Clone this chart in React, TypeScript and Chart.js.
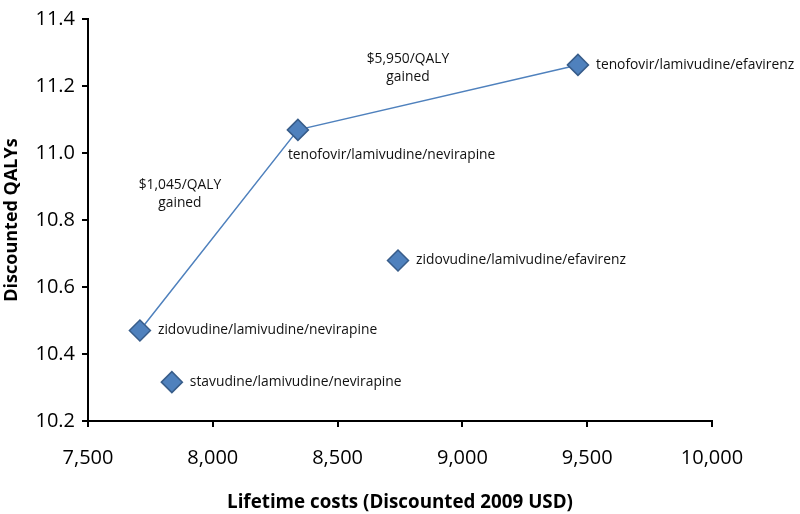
import React, { useEffect, useRef } from "react";
import { Chart, registerables } from "chart.js";

Chart.register(...registerables);

const regimens = [
  "zidovudine/lamivudine/nevirapine",
  "stavudine/lamivudine/nevirapine",
  "tenofovir/lamivudine/nevirapine",
  "zidovudine/lamivudine/efavirenz",
  "tenofovir/lamivudine/efavirenz",
];
const lifetimeCosts = [7708, 7836, 8341, 8742, 9463];
const discountedQalys = [10.47, 10.316, 11.069, 10.679, 11.263];
const onFrontier = [true, false, true, false, true];
const icerLabels = [
  ["$1,045/QALY", "gained"],
  ["$5,950/QALY", "gained"],
];
const xTicks = [7500, 8000, 8500, 9000, 9500, 10000];
const yTicks = [10.2, 10.4, 10.6, 10.8, 11.0, 11.2, 11.4];

const FONT = "'Open Sans', 'DejaVu Sans', sans-serif";
const BLUE = "#4F81BD";
const BLUE_DARK = "#385D8A";

const labelPlugin = {
  id: "regimenLabels",
  afterDatasetsDraw(chart: any) {
    const ctx = chart.ctx;
    const xs = chart.scales.x;
    const ys = chart.scales.y;
    ctx.save();
    ctx.fillStyle = "#111";
    ctx.font = `13.8px ${FONT}`;
    ctx.textBaseline = "middle";
    regimens.forEach((name, i) => {
      const px = xs.getPixelForValue(lifetimeCosts[i]);
      const py = ys.getPixelForValue(discountedQalys[i]);
      ctx.textAlign = "left";
      if (name === "tenofovir/lamivudine/nevirapine") {
        ctx.fillText(name, px - 10, py + 25);
      } else {
        ctx.fillText(name, px + 18, py);
      }
    });
    // ICER annotations near frontier segments
    const fIdx = regimens.map((_, i) => i).filter((i) => onFrontier[i]);
    const offsets = [
      [-39, -36],
      [-30, -29],
    ];
    ctx.textAlign = "center";
    for (let s = 0; s < fIdx.length - 1; s++) {
      const a = fIdx[s];
      const b = fIdx[s + 1];
      const mx = (xs.getPixelForValue(lifetimeCosts[a]) + xs.getPixelForValue(lifetimeCosts[b])) / 2;
      const my = (ys.getPixelForValue(discountedQalys[a]) + ys.getPixelForValue(discountedQalys[b])) / 2;
      const [ox, oy] = offsets[s];
      const lines = icerLabels[s];
      lines.forEach((ln, k) => {
        ctx.fillText(ln, mx + ox, my + oy + (k - (lines.length - 1) / 2) * 18);
      });
    }
    ctx.restore();
  },
};

export default function App() {
  const ref = useRef<HTMLCanvasElement | null>(null);
  useEffect(() => {
    document.body.style.margin = "0";
    const frontier = regimens
      .map((_, i) => i)
      .filter((i) => onFrontier[i])
      .map((i) => ({ x: lifetimeCosts[i], y: discountedQalys[i] }));
    const dominated = regimens
      .map((_, i) => i)
      .filter((i) => !onFrontier[i])
      .map((i) => ({ x: lifetimeCosts[i], y: discountedQalys[i] }));
    const pointStyle = {
      pointStyle: "rectRot",
      pointRadius: 10.5,
      pointHoverRadius: 10.5,
      pointBackgroundColor: BLUE,
      pointBorderColor: BLUE_DARK,
      pointBorderWidth: 1.5,
    };
    const chart = new Chart(ref.current as HTMLCanvasElement, {
      type: "scatter",
      data: {
        datasets: [
          {
            label: "Efficiency frontier",
            data: frontier,
            showLine: true,
            borderColor: BLUE,
            borderWidth: 1.5,
            ...pointStyle,
          } as any,
          {
            label: "Dominated",
            data: dominated,
            showLine: false,
            ...pointStyle,
          } as any,
        ],
      },
      options: {
        animation: false,
        responsive: false,
        maintainAspectRatio: false,
        layout: { padding: { top: 5, right: 88, left: 0, bottom: 0 } },
        plugins: {
          legend: { display: false },
          tooltip: { enabled: false },
        },
        scales: {
          x: {
            type: "linear",
            min: xTicks[0],
            max: xTicks[xTicks.length - 1],
            afterBuildTicks: (scale: any) => {
              scale.ticks = xTicks.map((v) => ({ value: v }));
            },
            afterFit: (scale: any) => {
              scale.height = 93;
            },
            grid: { drawOnChartArea: false, drawTicks: true, tickLength: 6, color: "#000", lineWidth: 2 },
            border: { display: true, color: "#000", width: 2 },
            ticks: {
              color: "#000",
              font: { family: FONT, size: 20 },
              padding: 19,
              maxRotation: 0,
              callback: (v: any) => Number(v).toLocaleString("en-US"),
            },
            title: {
              display: true,
              text: "Lifetime costs (Discounted 2009 USD)",
              color: "#000",
              font: { family: FONT, size: 18.8, weight: "bold" },
              padding: { top: 0, bottom: 0 },
            },
          },
          y: {
            type: "linear",
            min: yTicks[0],
            max: yTicks[yTicks.length - 1],
            afterBuildTicks: (scale: any) => {
              scale.ticks = yTicks.map((v) => ({ value: v }));
            },
            afterFit: (scale: any) => {
              scale.width = 88;
            },
            grid: { drawOnChartArea: false, drawTicks: true, tickLength: 6, color: "#000", lineWidth: 2 },
            border: { display: true, color: "#000", width: 2 },
            ticks: {
              color: "#000",
              font: { family: FONT, size: 20 },
              padding: 7,
              callback: (v: any) => Number(v).toFixed(1),
            },
            title: {
              display: true,
              text: "Discounted QALYs",
              color: "#000",
              font: { family: FONT, size: 18, weight: "bold" },
              padding: { top: 1, bottom: 0 },
            },
          },
        },
      },
      plugins: [labelPlugin],
    });
    return () => chart.destroy();
  }, []);
  return (
    <div style={{ width: 800, height: 514, background: "#fff" }}>
      <canvas ref={ref} width={800} height={514} style={{ display: "block" }} />
    </div>
  );
}
